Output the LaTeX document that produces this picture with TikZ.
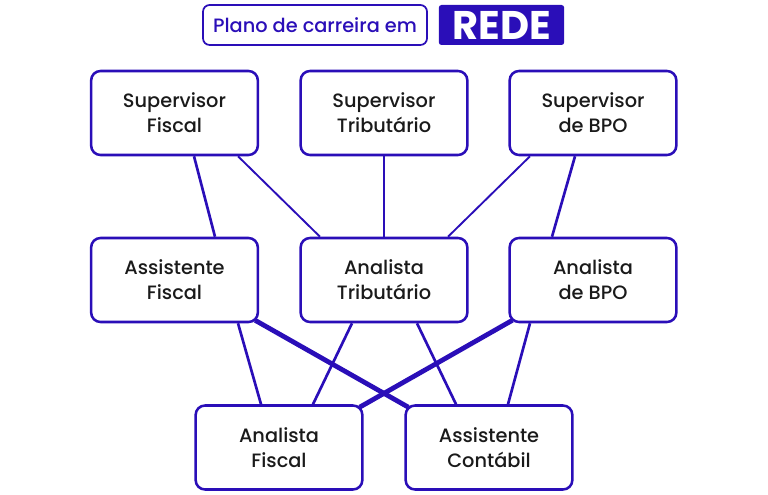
\documentclass[tikz,border=0pt]{standalone}
\usepackage{fontspec}
\setmainfont{Poppins}[UprightFont={Poppins Medium}, BoldFont={Poppins Bold}]
\usetikzlibrary{calc,backgrounds}

\definecolor{redeblue}{RGB}{42,14,184}
\definecolor{labelink}{RGB}{26,26,26}

\begin{document}
\begin{tikzpicture}[
        x=0.75pt, y=-0.75pt,
        role/.style={draw=redeblue, line width=1.9pt, fill=white, rounded corners=7pt,
          minimum width=125pt, minimum height=63pt, align=center, text=labelink,
          font=\fontsize{14.5}{18.8}\selectfont},
        thinlink/.style={draw=redeblue, line width=1.4pt},
        midlink/.style={draw=redeblue, line width=2pt},
        thicklink/.style={draw=redeblue, line width=3.6pt}
      ]
      \useasboundingbox (0,0) rectangle (768,495);
      % title
      \node[draw=redeblue, line width=1.3pt, rounded corners=5pt, minimum width=168pt, minimum height=30pt,
        text=redeblue, font=\fontsize{14.5}{16}\selectfont] (plano) at (315,25) {Plano de carreira em};
      \node[fill=redeblue, rounded corners=2pt, minimum width=94pt, minimum height=30pt,
        text=white, font=\fontsize{30}{32}\bfseries] (rede) at (501.5,25) {REDE};
      % supervisors
      \node[role] (supfis) at (174.5,113) {Supervisor\\Fiscal};
      \node[role] (suptri) at (384,113) {Supervisor\\Tributário};
      \node[role] (supbpo) at (593,113) {Supervisor\\de BPO};
      % middle level
      \node[role] (assfis) at (174.5,280) {Assistente\\Fiscal};
      \node[role] (anatri) at (384,280) {Analista\\Tributário};
      \node[role] (anabpo) at (593,280) {Analista\\de BPO};
      % entry level
      \node[role] (anafis) at (279,447.5) {Analista\\Fiscal};
      \node[role] (asscon) at (489,447.5) {Assistente\\Contábil};
      \begin{pgfonlayer}{background}
        \draw[midlink] ($(supfis.south)+(19.5,0)$) -- ($(assfis.north)+(40.5,0)$);
        \draw[thinlink] ($(supfis.south)+(63.5,0)$) -- ($(anatri.north)+(-64,0)$);
        \draw[thinlink] (suptri.south) -- (anatri.north);
        \draw[thinlink] ($(supbpo.south)+(-63,0)$) -- ($(anatri.north)+(64,0)$);
        \draw[midlink] ($(supbpo.south)+(-18,0)$) -- ($(anabpo.north)+(-41,0)$);
        \draw[midlink] ($(assfis.south)+(63.5,0)$) -- ($(anafis.north)+(-18,0)$);
        \draw[thicklink] ($(assfis.south east)+(-4,-3)$) -- ($(asscon.north west)+(4,3)$);
        \draw[midlink] ($(anatri.south)+(-32,0)$) -- ($(anafis.north)+(34,0)$);
        \draw[midlink] ($(anatri.south)+(33,0)$) -- ($(asscon.north)+(-33,0)$);
        \draw[thicklink] ($(anabpo.south west)+(4,-3)$) -- ($(anafis.north east)+(-4,3)$);
        \draw[midlink] ($(anabpo.south)+(-63,0)$) -- ($(asscon.north)+(19,0)$);
      \end{pgfonlayer}
    \end{tikzpicture}
\end{document}
